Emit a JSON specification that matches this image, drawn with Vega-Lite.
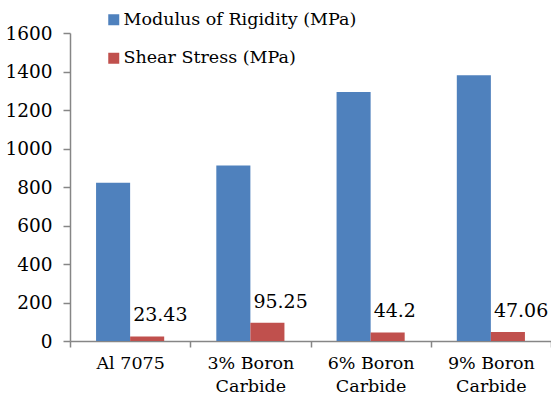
{
  "$schema": "https://vega.github.io/schema/vega-lite/v6.json",
  "width": 481,
  "height": 308,
  "autosize": {"type": "none"},
  "padding": {"left": 70, "top": 33, "right": 0, "bottom": 62},
  "background": "white",
  "config": {
    "view": {"stroke": null},
    "font": "DejaVu Serif",
    "axis": {"grid": false, "domainColor": "#868686", "tickColor": "#868686", "labelColor": "#000000", "labelFont": "DejaVu Serif", "domainWidth": 1.5, "tickWidth": 1.5},
    "legend": {"labelFont": "DejaVu Serif"},
    "text": {"font": "DejaVu Serif"}
  },
  "data": {
    "values": [
      {"material": "Al 7075", "series": "Modulus of Rigidity (MPa)", "value": 822},
      {"material": "Al 7075", "series": "Shear Stress (MPa)", "value": 23.43},
      {"material": "3% Boron Carbide", "series": "Modulus of Rigidity (MPa)", "value": 912},
      {"material": "3% Boron Carbide", "series": "Shear Stress (MPa)", "value": 95.25},
      {"material": "6% Boron Carbide", "series": "Modulus of Rigidity (MPa)", "value": 1294},
      {"material": "6% Boron Carbide", "series": "Shear Stress (MPa)", "value": 44.2},
      {"material": "9% Boron Carbide", "series": "Modulus of Rigidity (MPa)", "value": 1380},
      {"material": "9% Boron Carbide", "series": "Shear Stress (MPa)", "value": 47.06}
    ]
  },
  "encoding": {
    "x": {
      "field": "material", "type": "nominal", "sort": null, "title": null,
      "scale": {"paddingInner": 0, "paddingOuter": 0},
      "axis": {"labelAngle": 0, "tickBand": "extent", "tickSize": 6, "labelPadding": 7, "labelLineHeight": 23, "labelFontSize": 17.5,
        "labelExpr": "indexof(datum.label, 'Boron') > 0 ? [replace(datum.label, ' Carbide', ''), 'Carbide'] : datum.label"}
    },
    "xOffset": {"field": "series", "type": "nominal", "sort": null, "scale": {"paddingInner": 0, "paddingOuter": 0.765}},
    "y": {
      "field": "value", "type": "quantitative", "title": null,
      "scale": {"domain": [0, 1600], "nice": false},
      "axis": {"values": [0, 200, 400, 600, 800, 1000, 1200, 1400, 1600], "format": "d", "tickSize": 7, "labelPadding": 11, "labelFontSize": 18.5}
    }
  },
  "layer": [
    {
      "mark": {"type": "bar"},
      "encoding": {
        "color": {
          "field": "series", "type": "nominal", "sort": null,
          "scale": {"range": ["#4F81BD", "#C0504D"]},
          "legend": {"title": null, "orient": "none", "legendX": 35, "legendY": -22, "padding": 0,
            "symbolType": "square", "symbolSize": 121, "symbolStrokeWidth": 0, "labelFontSize": 17.5,
            "labelOffset": 1, "rowPadding": 19.5, "labelColor": "#000000", "labelLimit": 400}
        }
      }
    },
    {
      "transform": [{"filter": "datum.series == 'Shear Stress (MPa)'"}],
      "mark": {"type": "text", "align": "left", "baseline": "alphabetic", "dx": -14, "dy": -15, "fontSize": 19, "color": "#000000"},
      "encoding": {"text": {"field": "value", "type": "quantitative", "format": ".4~"}}
    }
  ]
}
